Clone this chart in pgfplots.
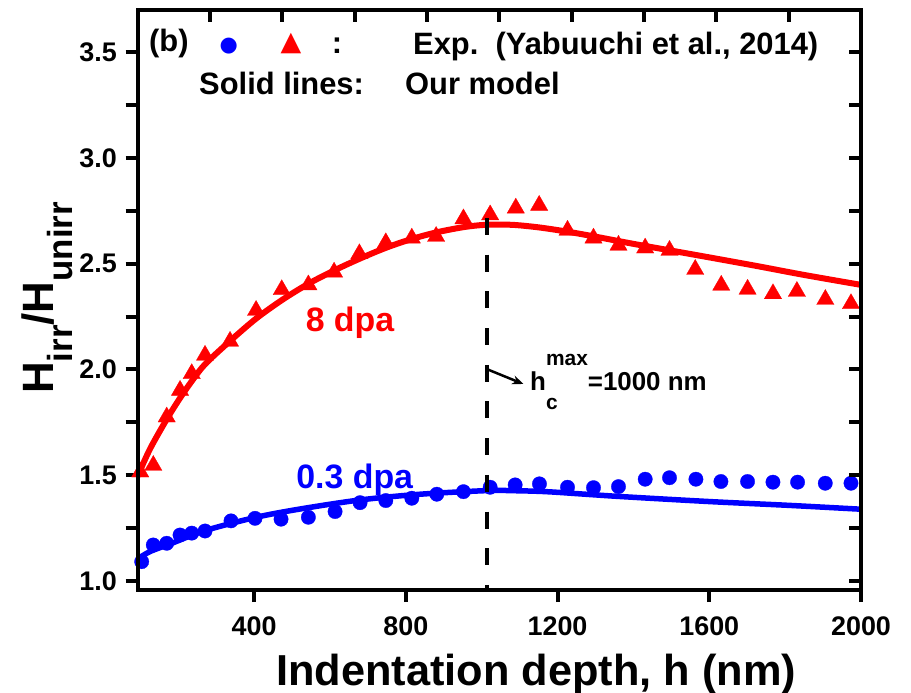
\documentclass[border=0pt]{standalone}
\usepackage{pgfplots}
\pgfplotsset{compat=1.18}
\usepackage{pgfplotstable}
\usepackage{fontspec}
\setmainfont{Liberation Sans}
\newfontfamily\symfont{DejaVu Sans}
\usetikzlibrary{arrows.meta}
\newcommand{\fs}[1]{\fontsize{#1}{#1}\selectfont\bfseries}

\pgfplotstableread{
x y
103.8 1.091
134.4 1.170
169.8 1.178
204.9 1.217
235.7 1.226
270.8 1.236
339.3 1.284
402.6 1.296
471.2 1.292
543.2 1.301
613.6 1.328
679.5 1.370
747.3 1.380
815.9 1.391
881.8 1.410
951.9 1.422
1022.4 1.443
1088.3 1.454
1152.3 1.459
1226.3 1.443
1294.8 1.441
1360.7 1.446
1431.1 1.481
1495.2 1.488
1564.8 1.481
1630.7 1.470
1700.9 1.470
1767.9 1.467
1832.8 1.467
1905.8 1.462
1973.6 1.462
}\bluedata

\pgfplotstableread{
x y
100 1.515
134.5 1.546
169.8 1.775
204.9 1.901
235.7 1.980
270.8 2.067
336.7 2.133
405.3 2.279
473 2.377
543.2 2.400
611 2.460
677.7 2.547
747.3 2.599
815.9 2.621
880 2.629
952 2.712
1022.4 2.731
1090 2.763
1151.6 2.776
1226.3 2.658
1294.8 2.621
1360.7 2.587
1431 2.574
1495.2 2.563
1563 2.473
1631.6 2.398
1701 2.379
1768 2.358
1831 2.369
1906 2.331
1973.6 2.311
}\reddata

\pgfplotstableread{
x y
93 1.104
126 1.139
179 1.175
271 1.238
403 1.300
521 1.340
680 1.383
838 1.410
1014 1.427
1100 1.426
1181 1.421
1357 1.400
1603 1.375
1813 1.357
2000 1.339
}\bluemodel

\pgfplotstableread{
x y
93 1.495
126 1.625
170 1.765
205 1.865
236 1.945
271 2.025
337 2.135
405 2.240
475 2.330
543 2.405
611 2.468
680 2.525
750 2.577
816 2.617
880 2.648
952 2.673
1010 2.684
1080 2.684
1150 2.672
1225 2.652
1300 2.628
1400 2.594
1497 2.563
1600 2.530
1726 2.489
1850 2.447
2000 2.400
}\redmodel

\begin{document}
\begin{tikzpicture}
\path[use as bounding box] (-137.7bp,-103bp) rectangle (773.3bp,590bp);
\begin{axis}[
  at={(0,0)}, anchor=south west,
  scale only axis, width=723.3bp, height=580bp,
  xmin=93.3, xmax=2000, ymin=0.957, ymax=3.70,
  axis line style={line width=4.3bp},
  xtick={400,800,1200,1600,2000},
  xticklabels={400,800,1200,1600,2000},
  scaled x ticks=false,
  xtick pos=left,
  ytick={1,1.25,1.5,1.75,2,2.25,2.5,2.75,3,3.25,3.5},
  yticklabels={1.0,,1.5,,2.0,,2.5,,3.0,,3.5},
  ytick pos=left,
  tick align=outside,
  major tick length=12bp,
  tick style={line width=4bp, black},
  /pgf/number format/assume math mode=true,
  ticklabel style={font=\fs{27}, inner sep=0pt},
  xticklabel style={yshift=-14.7bp},
  yticklabel style={xshift=-8.7bp},
]
\addplot[blue, line width=5.5bp, smooth, no marks] table[x=x,y=y] {\bluemodel};
\addplot[red, line width=6bp, smooth, no marks] table[x=x,y=y] {\redmodel};
\addplot[only marks, mark=*, mark size=7.2bp, blue, mark options={draw=blue, fill=blue, line width=0.3bp}] table[x=x,y=y] {\bluedata};
\addplot[only marks, mark=triangle*, mark size=10bp, red, mark options={draw=red, fill=red, line width=0.3bp}] table[x=x,y=y] {\reddata};
\end{axis}
\begin{axis}[
  at={(0,0)}, anchor=south west,
  scale only axis, width=723.3bp, height=580bp,
  xmin=0, xmax=10, ymin=0.957, ymax=3.70,
  axis line style={line width=4.3bp},
  xtick={1,2,3,4,5,6,7,8,9}, xtick pos=right,
  ytick={1,1.25,1.5,1.75,2,2.25,2.5,2.75,3,3.25,3.5}, ytick pos=right,
  xticklabels={}, yticklabels={},
  ticklabel style={text opacity=0, opacity=0},
  tick align=inside,
  major tick length=12bp,
  tick style={line width=4bp, black},
]
\end{axis}
% annotations
\draw[black, line width=4bp, dash pattern=on 17bp off 19.7bp] (349bp,372bp) -- (349bp,0bp);
\draw[black, line width=2.5bp, -{Stealth[length=11bp,width=9bp]}] (349.6bp,220.7bp) -- (385.6bp,206bp);
\node[anchor=base west, inner sep=0pt] at (392.3bp,199.3bp)
  {\fs{26}h\rlap{\raisebox{-19.3bp}{\fs{21}c}}\raisebox{25bp}{\fs{21}max}=1000 nm};
\node[anchor=base, inner sep=0pt, text=red] at (212.3bp,258.3bp) {\fs{34}8 dpa};
\node[anchor=base, inner sep=0pt, text=blue] at (217bp,101.7bp) {\fs{34}0.3 dpa};
% header
\node[anchor=base west, inner sep=0pt] at (11.3bp,538bp) {\fs{31}(b)};
\node[anchor=center, inner sep=0pt, text=blue] at (91bp,544.3bp) {\symfont\fontsize{21}{21}\selectfont ●};
\node[anchor=center, inner sep=0pt, text=red] at (153.3bp,546.5bp) {\symfont\fontsize{27}{27}\selectfont ▲};
\node[anchor=base west, inner sep=0pt] at (194bp,536.7bp) {\fs{31}:};
\node[anchor=base west, inner sep=0pt] at (275.3bp,535bp) {\fs{31}Exp.\ \ (Yabuuchi et al., 2014)};
\node[anchor=base west, inner sep=0pt] at (61.3bp,495bp) {\fs{31}Solid lines:};
\node[anchor=base west, inner sep=0pt] at (267.3bp,495bp) {\fs{31}Our model};
% axis labels
\node[anchor=base, inner sep=0pt] at (398.3bp,-95bp) {\fs{43.5}Indentation depth, h (nm)};
\node[anchor=base, inner sep=0pt, rotate=90] at (-84.4bp,292bp)
  {\fs{44}H\raisebox{-19.5bp}{\fs{35}irr}/H\raisebox{-19.5bp}{\fs{35}unirr}};
\end{tikzpicture}
\end{document}
